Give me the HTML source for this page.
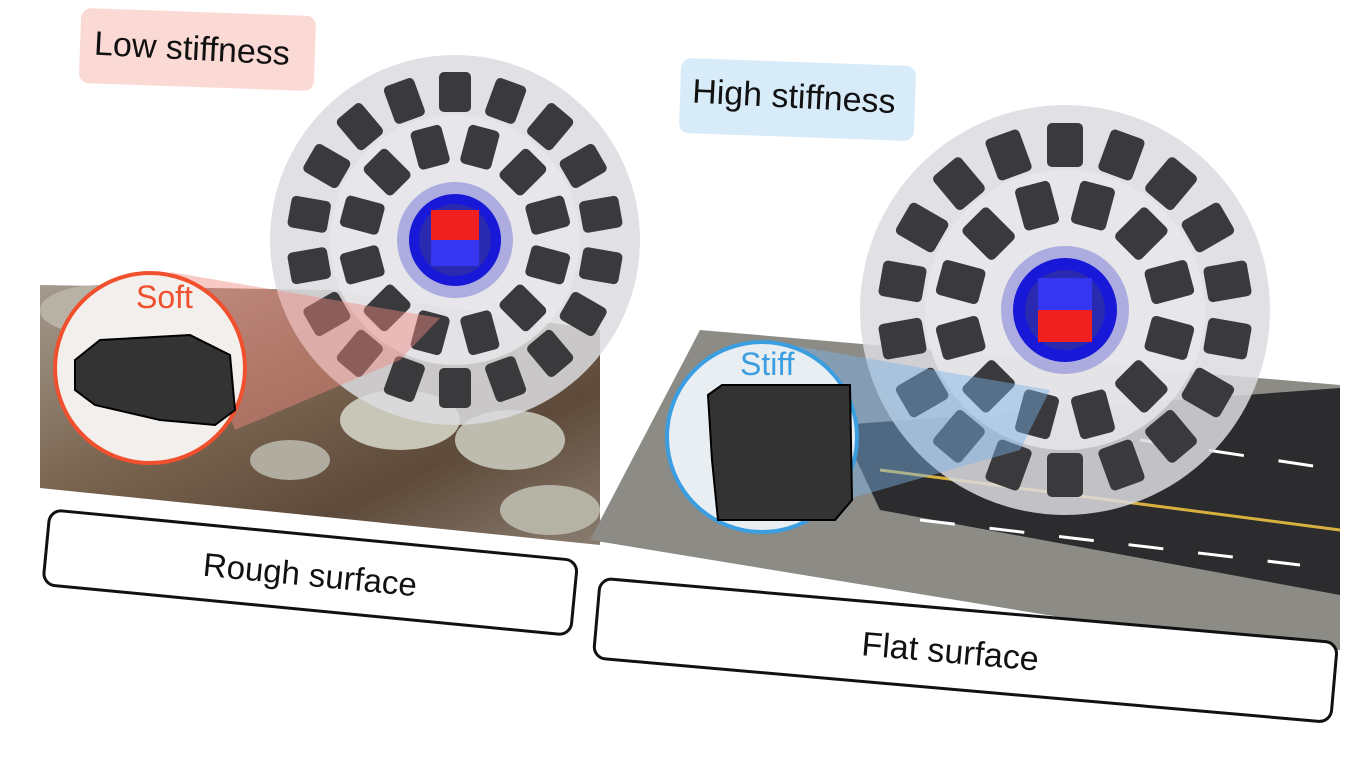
<!DOCTYPE html>
<html><head><meta charset="utf-8"><style>
html,body{margin:0;padding:0;background:#fff;}
svg{display:block;}
text{font-family:"Liberation Sans",sans-serif;}
</style></head><body>
<svg width="1370" height="764" viewBox="0 0 1370 764" xmlns="http://www.w3.org/2000/svg">
<defs>
<linearGradient id="rock" x1="0" y1="0" x2="1" y2="1">
<stop offset="0" stop-color="#a49a8e"/><stop offset="0.4" stop-color="#7a6550"/><stop offset="0.7" stop-color="#5e4a3a"/><stop offset="1" stop-color="#8a7d70"/>
</linearGradient>
<rect id="c1" x="-16" y="-20" width="32" height="40" rx="5" fill="#3a3a3c"/>
<rect id="c2" x="-18" y="-22" width="36" height="44" rx="5" fill="#3a3a3c"/>
</defs>
<polygon points="40,285 330,290 600,330 600,545 40,488" fill="url(#rock)"/>
<ellipse cx="400" cy="420" rx="60" ry="30" fill="#c8c6b6"/>
<ellipse cx="510" cy="440" rx="55" ry="30" fill="#bdbcae"/>
<ellipse cx="550" cy="510" rx="50" ry="25" fill="#b5b3a6"/>
<ellipse cx="100" cy="310" rx="60" ry="25" fill="#b8b2a6"/>
<ellipse cx="290" cy="460" rx="40" ry="20" fill="#b0aca0"/>
<polygon points="590,540 700,330 1340,385 1340,650 1200,640" fill="#8c8b86"/>
<polygon points="840,425 1340,388 1340,595 880,510" fill="#2c2c2e"/>
<line x1="880" y1="470" x2="1340" y2="530" stroke="#d8b040" stroke-width="3"/>
<line x1="920" y1="520" x2="1300" y2="565" stroke="#fff" stroke-width="3" stroke-dasharray="35,35"/>
<line x1="1140" y1="440" x2="1340" y2="470" stroke="#fff" stroke-width="3" stroke-dasharray="35,35"/>
<g transform="translate(455,240)">
<circle r="185" fill="#dcdce0" opacity="0.85"/>
<circle r="125" fill="#e8e8ec" opacity="0.8"/>
<use href="#c1" transform="rotate(0) translate(0,-148)"/><use href="#c1" transform="rotate(20) translate(0,-148)"/><use href="#c1" transform="rotate(40) translate(0,-148)"/><use href="#c1" transform="rotate(60) translate(0,-148)"/><use href="#c1" transform="rotate(80) translate(0,-148)"/><use href="#c1" transform="rotate(100) translate(0,-148)"/><use href="#c1" transform="rotate(120) translate(0,-148)"/><use href="#c1" transform="rotate(140) translate(0,-148)"/><use href="#c1" transform="rotate(160) translate(0,-148)"/><use href="#c1" transform="rotate(180) translate(0,-148)"/><use href="#c1" transform="rotate(200) translate(0,-148)"/><use href="#c1" transform="rotate(220) translate(0,-148)"/><use href="#c1" transform="rotate(240) translate(0,-148)"/><use href="#c1" transform="rotate(260) translate(0,-148)"/><use href="#c1" transform="rotate(280) translate(0,-148)"/><use href="#c1" transform="rotate(300) translate(0,-148)"/><use href="#c1" transform="rotate(320) translate(0,-148)"/><use href="#c1" transform="rotate(340) translate(0,-148)"/>
<use href="#c1" transform="rotate(15) translate(0,-96)"/><use href="#c1" transform="rotate(45) translate(0,-96)"/><use href="#c1" transform="rotate(75) translate(0,-96)"/><use href="#c1" transform="rotate(105) translate(0,-96)"/><use href="#c1" transform="rotate(135) translate(0,-96)"/><use href="#c1" transform="rotate(165) translate(0,-96)"/><use href="#c1" transform="rotate(195) translate(0,-96)"/><use href="#c1" transform="rotate(225) translate(0,-96)"/><use href="#c1" transform="rotate(255) translate(0,-96)"/><use href="#c1" transform="rotate(285) translate(0,-96)"/><use href="#c1" transform="rotate(315) translate(0,-96)"/><use href="#c1" transform="rotate(345) translate(0,-96)"/>
<circle r="58" fill="#8585d8" opacity="0.6"/>
<circle r="46" fill="#1818d8"/>
<circle r="36" fill="#2a2ab0"/>
<rect x="-24" y="-30" width="48" height="30" fill="#f02020"/>
<rect x="-24" y="0" width="48" height="26" fill="#3636f0"/>
</g>
<g transform="translate(1065,310)">
<circle r="205" fill="#dcdce0" opacity="0.85"/>
<circle r="140" fill="#e8e8ec" opacity="0.8"/>
<use href="#c2" transform="rotate(0) translate(0,-165)"/><use href="#c2" transform="rotate(20) translate(0,-165)"/><use href="#c2" transform="rotate(40) translate(0,-165)"/><use href="#c2" transform="rotate(60) translate(0,-165)"/><use href="#c2" transform="rotate(80) translate(0,-165)"/><use href="#c2" transform="rotate(100) translate(0,-165)"/><use href="#c2" transform="rotate(120) translate(0,-165)"/><use href="#c2" transform="rotate(140) translate(0,-165)"/><use href="#c2" transform="rotate(160) translate(0,-165)"/><use href="#c2" transform="rotate(180) translate(0,-165)"/><use href="#c2" transform="rotate(200) translate(0,-165)"/><use href="#c2" transform="rotate(220) translate(0,-165)"/><use href="#c2" transform="rotate(240) translate(0,-165)"/><use href="#c2" transform="rotate(260) translate(0,-165)"/><use href="#c2" transform="rotate(280) translate(0,-165)"/><use href="#c2" transform="rotate(300) translate(0,-165)"/><use href="#c2" transform="rotate(320) translate(0,-165)"/><use href="#c2" transform="rotate(340) translate(0,-165)"/>
<use href="#c2" transform="rotate(15) translate(0,-108)"/><use href="#c2" transform="rotate(45) translate(0,-108)"/><use href="#c2" transform="rotate(75) translate(0,-108)"/><use href="#c2" transform="rotate(105) translate(0,-108)"/><use href="#c2" transform="rotate(135) translate(0,-108)"/><use href="#c2" transform="rotate(165) translate(0,-108)"/><use href="#c2" transform="rotate(195) translate(0,-108)"/><use href="#c2" transform="rotate(225) translate(0,-108)"/><use href="#c2" transform="rotate(255) translate(0,-108)"/><use href="#c2" transform="rotate(285) translate(0,-108)"/><use href="#c2" transform="rotate(315) translate(0,-108)"/><use href="#c2" transform="rotate(345) translate(0,-108)"/>
<circle r="64" fill="#8585d8" opacity="0.6"/>
<circle r="52" fill="#1818d8"/>
<circle r="40" fill="#2a2ab0"/>
<rect x="-27" y="-32" width="54" height="32" fill="#3636f0"/>
<rect x="-27" y="0" width="54" height="32" fill="#f02020"/>
</g>
<polygon points="170,272 440,318 400,360 235,430" fill="#f08a80" opacity="0.45"/>
<polygon points="790,345 1050,390 1020,450 845,500" fill="#7ab4e8" opacity="0.45"/>
<circle cx="150" cy="368" r="95" fill="#f2efec" stroke="#f0502e" stroke-width="4"/>
<text x="136" y="308" font-size="32" fill="#f0502e">Soft</text>
<path d="M75,360 L100,340 L190,335 L230,355 L235,410 L215,425 L160,420 L95,405 L75,390 Z" fill="#333" stroke="#000" stroke-width="2"/>
<circle cx="762" cy="437" r="95" fill="#e9eef2" stroke="#3a9ee0" stroke-width="4"/>
<text x="740" y="375" font-size="32" fill="#3a9ee0">Stiff</text>
<path d="M708,395 L722,385 L850,385 L852,500 L835,520 L718,520 L712,460 Z" fill="#333" stroke="#000" stroke-width="2"/>
<rect x="80" y="12" width="235" height="75" rx="10" fill="#fbd9d4" transform="rotate(2 197 50)"/>
<text x="94" y="60" font-size="34" fill="#111" transform="rotate(3 197 50)">Low stiffness</text>
<rect x="680" y="62" width="235" height="75" rx="10" fill="#d8ebf9" transform="rotate(2 797 100)"/>
<text x="692" y="108" font-size="34" fill="#111" transform="rotate(3 797 100)">High stiffness</text>
<g transform="rotate(5.5 310 575)">
<rect x="45" y="535" width="530" height="75" rx="12" fill="#fff" stroke="#111" stroke-width="3"/>
<text x="310" y="586" font-size="33" text-anchor="middle" fill="#111">Rough surface</text>
</g>
<g transform="rotate(5 962 655)">
<rect x="595" y="610" width="740" height="80" rx="12" fill="#fff" stroke="#111" stroke-width="3"/>
<text x="950" y="664" font-size="34" text-anchor="middle" fill="#111">Flat surface</text>
</g>
</svg>
</body></html>
